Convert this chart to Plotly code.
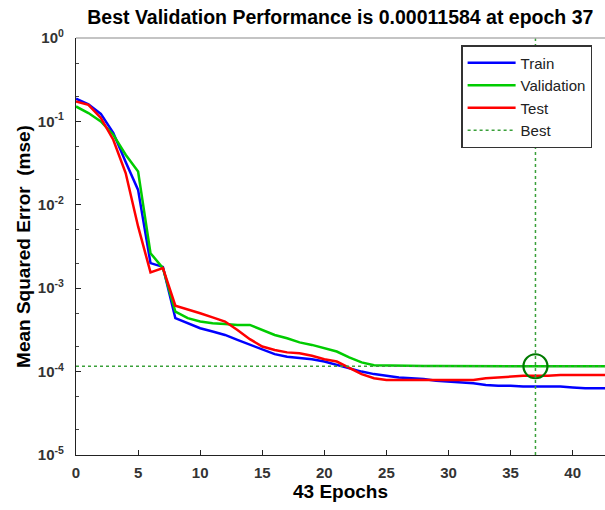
import plotly.graph_objects as go

epochs = list(range(0, 44))

train_mse = [0.187, 0.160, 0.123, 0.0730, 0.0327, 0.0151, 0.00200, 0.00180, 4.37e-4, 3.80e-4,
             3.31e-4, 3.02e-4, 2.75e-4, 2.40e-4, 2.09e-4, 1.82e-4, 1.62e-4, 1.51e-4, 1.45e-4, 1.41e-4,
             1.32e-4, 1.20e-4, 1.10e-4, 1.00e-4, 9.33e-5, 8.91e-5, 8.51e-5, 8.32e-5, 8.13e-5, 7.76e-5,
             7.59e-5, 7.41e-5, 7.24e-5, 6.92e-5, 6.76e-5, 6.76e-5, 6.61e-5, 6.61e-5, 6.61e-5, 6.61e-5,
             6.46e-5, 6.31e-5, 6.31e-5, 6.31e-5]

val_mse = [0.151, 0.126, 0.100, 0.0692, 0.0398, 0.0251, 0.00263, 0.00174, 5.25e-4, 4.37e-4,
           3.98e-4, 3.80e-4, 3.72e-4, 3.63e-4, 3.63e-4, 3.16e-4, 2.75e-4, 2.51e-4, 2.24e-4, 2.09e-4,
           1.91e-4, 1.74e-4, 1.48e-4, 1.29e-4, 1.19e-4, 1.18e-4, 1.18e-4, 1.18e-4, 1.165e-4, 1.165e-4,
           1.165e-4, 1.165e-4, 1.165e-4, 1.165e-4, 1.165e-4, 1.165e-4, 1.165e-4, 1.1584e-4, 1.16e-4, 1.16e-4,
           1.16e-4, 1.16e-4, 1.16e-4, 1.16e-4]

test_mse = [0.173, 0.158, 0.110, 0.0603, 0.0240, 0.00550, 0.00155, 0.00174, 6.17e-4, 5.50e-4,
            5.01e-4, 4.47e-4, 3.98e-4, 3.16e-4, 2.45e-4, 2.00e-4, 1.82e-4, 1.70e-4, 1.66e-4, 1.55e-4,
            1.41e-4, 1.32e-4, 1.10e-4, 9.33e-5, 8.32e-5, 7.94e-5, 7.94e-5, 7.94e-5, 7.94e-5, 7.94e-5,
            7.94e-5, 7.94e-5, 7.94e-5, 8.32e-5, 8.51e-5, 8.71e-5, 8.91e-5, 8.91e-5, 8.91e-5, 9.12e-5,
            9.12e-5, 9.12e-5, 9.12e-5, 9.12e-5]

best_epoch = 37
best_perf = 0.00011584
x_range = [0, 42.6]
y_tick_vals = [1e-5, 1e-4, 1e-3, 1e-2, 1e-1, 1e0]
y_tick_text = ["<b>10<sup>-5</sup></b>", "<b>10<sup>-4</sup></b>", "<b>10<sup>-3</sup></b>",
               "<b>10<sup>-2</sup></b>", "<b>10<sup>-1</sup></b>", "<b>10<sup>0</sup></b>"]
x_tick_vals = [0, 5, 10, 15, 20, 25, 30, 35, 40]
x_tick_text = ["<b>0</b>", "<b>5</b>", "<b>10</b>", "<b>15</b>", "<b>20</b>", "<b>25</b>",
               "<b>30</b>", "<b>35</b>", "<b>40</b>"]

BEST_GREEN = "#3aa03a"
FONT = "Liberation Sans, Arial"

fig = go.Figure()
fig.add_trace(go.Scatter(x=epochs, y=train_mse, mode="lines", name="Train",
                         line=dict(color="#0000ff", width=2.5), legendgroup="a"))
fig.add_trace(go.Scatter(x=epochs, y=val_mse, mode="lines", name="Validation",
                         line=dict(color="#00cc00", width=2.5), legendgroup="b"))
fig.add_trace(go.Scatter(x=epochs, y=test_mse, mode="lines", name="Test",
                         line=dict(color="#ff0000", width=2.5), legendgroup="c"))
fig.add_trace(go.Scatter(x=[x_range[0], x_range[1]], y=[best_perf, best_perf], mode="lines", name="Best",
                         line=dict(color=BEST_GREEN, width=1.5, dash="3px,3px"), legendgroup="d"))
fig.add_trace(go.Scatter(x=[best_epoch, best_epoch], y=[1e-5, 1e0], mode="lines", showlegend=False,
                         line=dict(color=BEST_GREEN, width=1.5, dash="3px,3px"), legendgroup="d"))
fig.add_trace(go.Scatter(x=[best_epoch], y=[best_perf], mode="markers", showlegend=False,
                         marker=dict(symbol="circle-open", size=24, color="#007a00",
                                     line=dict(width=2.2, color="#007a00"))))

fig.update_layout(
    width=605, height=510,
    margin=dict(l=76, r=0, t=38, b=55),
    paper_bgcolor="white", plot_bgcolor="white",
    font=dict(family=FONT, color="#222"),
    title=dict(text="<b>Best Validation Performance is 0.00011584 at epoch 37</b>",
               x=0.5625, xanchor="center", y=0.967, yanchor="middle",
               font=dict(size=19.5, color="black", family=FONT)),
    showlegend=True,
    legend=dict(x=0.728, y=0.983, xanchor="left", yanchor="top",
                bgcolor="white", bordercolor="#333", borderwidth=1.5,
                font=dict(size=15, color="#222", family=FONT), tracegroupgap=0,
                itemwidth=48),
)
fig.update_xaxes(range=x_range, tickvals=x_tick_vals, ticktext=x_tick_text,
                 ticks="inside", ticklen=5, ticklabelstandoff=4,
                 tickcolor="#222", showline=True, linecolor="#222", linewidth=1.2,
                 showgrid=False, zeroline=False,
                 tickfont=dict(size=15, color="#333", family=FONT),
                 title=dict(text="<b>43 Epochs</b>", font=dict(size=19, color="black", family=FONT),
                            standoff=3))
fig.update_yaxes(type="log", range=[-5, 0], tickvals=y_tick_vals, ticktext=y_tick_text,
                 ticks="inside", ticklen=5, tickcolor="#222", ticklabelstandoff=8,
                 showline=True, linecolor="#222", linewidth=1.2,
                 showgrid=False, zeroline=False,
                 minor=dict(ticks="inside", ticklen=3, tickcolor="#444", showgrid=False),
                 tickfont=dict(size=15, color="#333", family=FONT),
                 title=dict(text="<b>Mean Squared Error  (mse)</b>",
                            font=dict(size=19, color="black", family=FONT),
                            standoff=2))
fig.add_shape(type="line", xref="paper", yref="paper", x0=0, x1=1, y0=1, y1=1,
              line=dict(color="#b0b0b0", width=1.5))

fig.write_html("out.html")
